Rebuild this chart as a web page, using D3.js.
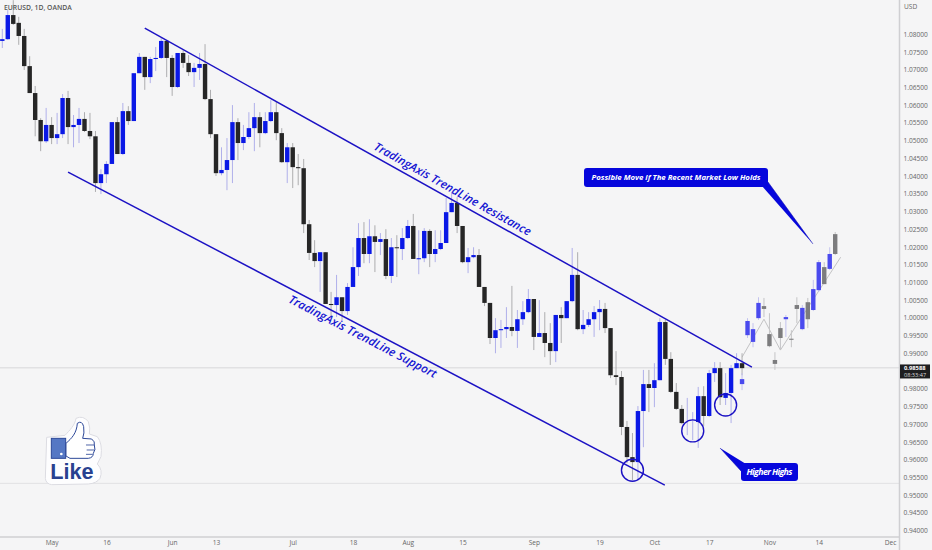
<!DOCTYPE html>
<html>
<head>
<meta charset="utf-8">
<script src="https://cdnjs.cloudflare.com/ajax/libs/d3/7.8.5/d3.min.js"></script>
<style>
  html, body { margin: 0; padding: 0; background: #f5f5f6; }
  svg { display: block; }
  text { font-family: "Open Sans", "DejaVu Sans", sans-serif; }
</style>
</head>
<body>
<div id="chart"></div>
<script>
const opens = [1.0781,1.0786,1.0854,1.0832,1.0795,1.0710,1.0634,1.0558,1.0498,1.0544,
  1.0507,1.0518,1.0620,1.0538,1.0544,1.0561,1.0527,1.0512,1.0380,1.0405,
  1.0434,1.0552,1.0462,1.0583,1.0555,1.0690,1.0736,1.0679,1.0730,1.0733,
  1.0781,1.0733,1.0651,1.0747,1.0719,1.0693,1.0705,1.0716,1.0617,1.0518,
  1.0408,1.0417,1.0445,1.0552,1.0493,1.0510,1.0535,1.0566,1.0521,1.0555,
  1.0580,1.0521,1.0439,1.0481,1.0425,1.0422,1.0264,1.0183,1.0160,1.0185,
  1.0039,1.0036,1.0058,1.0019,1.0087,1.0143,1.0225,1.0180,1.0230,1.0214,
  1.0222,1.0118,1.0199,1.0194,1.0225,1.0259,1.0166,1.0168,1.0245,1.0180,
  1.0194,1.0211,1.0298,1.0324,1.0259,1.0157,1.0171,1.0177,1.0087,1.0042,
  0.9943,0.9965,0.9968,0.9974,0.9963,0.9996,1.0016,1.0053,0.9946,0.9957,
  0.9929,0.9906,1.0008,0.9999,1.0047,1.0121,0.9968,0.9980,0.9996,1.0016,
  1.0025,0.9971,0.9838,0.9833,0.9692,0.9607,0.9593,0.9737,0.9813,0.9802,
  0.9824,0.9988,0.9884,0.9791,0.9743,0.9720,0.9700,0.9706,0.9779,0.9723,
  0.9844,0.9858,0.9774,0.9788,0.9858,0.9872];
const highs = [1.0815,1.0868,1.0896,1.0849,1.0815,1.0738,1.0654,1.0563,1.0592,1.0566,
  1.0578,1.0631,1.0640,1.0572,1.0592,1.0580,1.0578,1.0527,1.0419,1.0442,
  1.0552,1.0566,1.0606,1.0597,1.0690,1.0747,1.0736,1.0736,1.0764,1.0789,
  1.0784,1.0741,1.0747,1.0755,1.0741,1.0719,1.0747,1.0772,1.0643,1.0518,
  1.0481,1.0507,1.0600,1.0563,1.0544,1.0580,1.0606,1.0580,1.0580,1.0614,
  1.0609,1.0535,1.0493,1.0493,1.0462,1.0448,1.0276,1.0219,1.0185,1.0185,
  1.0073,1.0121,1.0058,1.0098,1.0199,1.0267,1.0270,1.0278,1.0261,1.0239,
  1.0250,1.0225,1.0233,1.0253,1.0276,1.0293,1.0247,1.0253,1.0250,1.0247,
  1.0247,1.0338,1.0355,1.0340,1.0259,1.0197,1.0199,1.0194,1.0087,1.0042,
  0.9999,0.9994,1.0030,1.0090,1.0022,1.0047,1.0081,1.0053,1.0050,1.0016,
  0.9985,1.0008,1.0030,1.0047,1.0197,1.0185,1.0022,1.0016,1.0033,1.0050,
  1.0042,0.9971,0.9906,0.9850,0.9709,0.9675,0.9751,0.9853,0.9853,0.9872,
  0.9999,0.9994,0.9903,0.9816,0.9754,0.9774,0.9734,0.9805,0.9807,0.9853,
  0.9875,0.9875,0.9844,0.9867,0.9900,0.9900];
const lows = [1.0761,1.0784,1.0826,1.0770,1.0699,1.0634,1.0512,1.0470,1.0493,1.0490,
  1.0490,1.0507,1.0490,1.0481,1.0493,1.0524,1.0504,1.0355,1.0349,1.0380,
  1.0434,1.0462,1.0459,1.0544,1.0555,1.0690,1.0643,1.0662,1.0696,1.0730,
  1.0679,1.0626,1.0648,1.0705,1.0682,1.0651,1.0671,1.0614,1.0507,1.0400,
  1.0402,1.0360,1.0380,1.0445,1.0473,1.0504,1.0470,1.0481,1.0518,1.0552,
  1.0501,1.0437,1.0380,1.0366,1.0374,1.0239,1.0163,1.0143,1.0073,1.0039,
  1.0002,1.0002,0.9994,1.0008,1.0087,1.0118,1.0154,1.0154,1.0129,1.0177,
  1.0109,1.0098,1.0115,1.0163,1.0222,1.0166,1.0123,1.0157,1.0143,1.0157,
  1.0191,1.0211,1.0298,1.0239,1.0154,1.0126,1.0168,1.0087,1.0033,0.9926,
  0.9900,0.9915,0.9943,0.9948,0.9915,0.9980,1.0013,0.9909,0.9946,0.9889,
  0.9867,0.9875,0.9929,0.9999,1.0044,0.9965,0.9954,0.9974,0.9946,0.9965,
  0.9957,0.9830,0.9810,0.9669,0.9590,0.9542,0.9542,0.9635,0.9734,0.9748,
  0.9824,0.9867,0.9788,0.9740,0.9700,0.9669,0.9655,0.9633,0.9695,0.9720,
  0.9819,0.9754,0.9754,0.9703,0.9858,0.9838];
const closes = [1.0786,1.0854,1.0829,1.0795,1.0710,1.0634,1.0558,1.0498,1.0544,1.0507,
  1.0518,1.0620,1.0538,1.0544,1.0561,1.0527,1.0512,1.0380,1.0405,1.0434,
  1.0552,1.0462,1.0583,1.0555,1.0690,1.0736,1.0679,1.0730,1.0733,1.0781,
  1.0733,1.0651,1.0747,1.0719,1.0693,1.0705,1.0716,1.0617,1.0518,1.0408,
  1.0417,1.0445,1.0552,1.0493,1.0510,1.0535,1.0566,1.0521,1.0555,1.0580,
  1.0521,1.0439,1.0481,1.0425,1.0422,1.0264,1.0183,1.0160,1.0185,1.0039,
  1.0036,1.0058,1.0019,1.0087,1.0143,1.0225,1.0180,1.0230,1.0214,1.0222,
  1.0118,1.0199,1.0197,1.0225,1.0259,1.0166,1.0168,1.0245,1.0180,1.0194,
  1.0211,1.0298,1.0324,1.0259,1.0157,1.0171,1.0177,1.0087,1.0042,0.9943,
  0.9965,0.9968,0.9974,0.9963,0.9996,1.0016,1.0053,0.9946,0.9957,0.9929,
  0.9906,1.0008,0.9999,1.0047,1.0121,0.9968,0.9980,0.9996,1.0016,1.0025,
  0.9971,0.9838,0.9833,0.9692,0.9607,0.9593,0.9737,0.9813,0.9802,0.9824,
  0.9988,0.9884,0.9791,0.9743,0.9703,0.9720,0.9700,0.9779,0.9723,0.9844,
  0.9858,0.9776,0.9788,0.9858,0.9872,0.9858];

// projected candles, first one sits on the last real bar
const projStart = 135;
const projOpens = [0.9813,0.9951,0.9932,0.9999,1.0033,0.9954,0.9881,0.9971,0.9996,0.9941,1.0036,0.9968,1.0044,1.0022,1.0078,1.0143,1.0138,1.0236];
const projHighs = [0.9844,0.9999,0.9985,1.0058,1.0056,1.0013,0.9903,0.9988,1.0008,0.9965,1.0058,1.0036,1.0056,1.0107,1.0163,1.0157,1.0199,1.0242];
const projLows = [0.9796,0.9943,0.9917,0.9994,1.0002,0.9917,0.9853,0.9909,0.9946,0.9917,0.9985,0.9965,0.9971,1.0019,1.0073,1.0095,1.0135,1.0177];
const projCloses = [0.9827,0.9991,0.9968,1.0042,1.0025,0.9920,0.9870,0.9943,1.0002,0.9938,1.0025,1.0028,0.9996,1.0081,1.0157,1.0095,1.0180,1.0180];

// thin zigzag under the projected candles
const zigBars = [135, 139, 142, 153];
const zigPrices = [0.9889, 0.9996, 0.9909, 1.0171];

// drawn lines, circled lows, horizontal levels
const resistanceBars = [26, 136.8];
const resistancePrices = [1.0817, 0.9861];
const supportBars = [12, 120.9];
const supportPrices = [1.0411, 0.9528];
const circleBars = [115, 126, 132];
const circlePrices = [0.9570, 0.9681, 0.9754];
const lastPrice = 0.98588;
const lowLevel = 0.9533;

// 0.98500 is hidden behind the last price tag
const priceTicks = d3.range(0, 29).map(i => 0.94 + i * 0.005).filter(p => Math.abs(p - 0.985) > 0.001);
const timeTickBars = [9, 19, 31, 39, 53, 64, 74, 84, 97, 109, 119, 129, 140, 149, 162];
const timeTickLabels = ["May", "16", "Jun", "13", "Jul", "18", "Aug", "15", "Sep", "19", "Oct", "17", "Nov", "14", "Dec"];

const width = 932, height = 550;
const axisX = 899.5, axisY = 537;
const blue = "#0a18e6", black = "#262626", lineBlue = "#1c12c4", boxBlue = "#0606dc";

const x = d3.scaleLinear().domain([0, 162]).range([2.3, 890]);
const y = d3.scaleLinear().domain([0.94, 1.08]).range([530.5, 34.2]);

const svg = d3.select("#chart").append("svg")
  .attr("width", width)
  .attr("height", height);

svg.append("rect").attr("width", width).attr("height", height).attr("fill", "#f5f5f6");

// levels behind the candles
[[lastPrice, "#cfcfd2"], [lowLevel, "#dcdcde"]].forEach(([p, c]) => {
  svg.append("line")
    .attr("x1", 0).attr("x2", axisX)
    .attr("y1", y(p)).attr("y2", y(p))
    .attr("stroke", c).attr("stroke-width", 0.8);
});

const real = opens.map((o, i) => ({ i, o, h: highs[i], l: lows[i], c: closes[i] }));
const proj = projOpens.map((o, i) => ({ i: projStart + i, o, h: projHighs[i], l: projLows[i], c: projCloses[i] }));

function drawCandles(rows, up, down, upWick, downWick) {
  const g = svg.append("g");
  g.selectAll("line").data(rows).enter().append("line")
    .attr("x1", d => x(d.i)).attr("x2", d => x(d.i))
    .attr("y1", d => y(d.h)).attr("y2", d => y(d.l))
    .attr("stroke", d => d.c >= d.o ? upWick : downWick)
    .attr("stroke-width", 1);
  g.selectAll("rect").data(rows.filter(d => d.o !== d.c)).enter().append("rect")
    .attr("x", d => x(d.i) - 2.2)
    .attr("width", 4.4)
    .attr("y", d => y(Math.max(d.o, d.c)))
    .attr("height", d => Math.max(1, Math.abs(y(d.o) - y(d.c))))
    .attr("fill", d => d.c >= d.o ? up : down);
}

const zigLine = d3.line().x(d => x(d[0])).y(d => y(d[1]));
svg.append("path")
  .attr("d", zigLine(zigBars.map((b, i) => [b, zigPrices[i]])))
  .attr("fill", "none").attr("stroke", "#bcbcbe").attr("stroke-width", 0.9);

drawCandles(real, blue, black, "#b0b0ea", "#adadaf");
drawCandles(proj, "#4a4aee", "#7c7c7e", "#c2c2ee", "#c4c4c6");

// trend lines
[[resistanceBars, resistancePrices], [supportBars, supportPrices]].forEach(([b, p]) => {
  svg.append("path")
    .attr("d", zigLine(b.map((v, i) => [v, p[i]])))
    .attr("fill", "none").attr("stroke", lineBlue).attr("stroke-width", 1.5);
});

svg.selectAll(".low").data(circleBars).enter().append("circle")
  .attr("class", "low")
  .attr("cx", d => x(d))
  .attr("cy", (d, i) => y(circlePrices[i]))
  .attr("r", 11)
  .attr("fill", "none").attr("stroke", lineBlue).attr("stroke-width", 1.4);

// along-the-line labels
function slanted(txt, px, py, angle, len) {
  svg.append("text")
    .attr("transform", "translate(" + px + "," + py + ") rotate(" + angle + ")")
    .attr("fill", "#1616d2")
    .attr("textLength", len)
    .attr("lengthAdjust", "spacing")
    .style("font-size", "11.6px")
    .style("font-style", "italic")
    .style("font-weight", "600")
    .text(txt);
}
slanted("TradingAxis TrendLine Resistance", 373, 149, 29.3, 178);
slanted("TradingAxis TrendLine Support", 287.7, 302, 27.5, 165);

// callouts
function callout(txt, bx, by, bw, bh, tail, size, len) {
  svg.append("path").attr("d", d3.line()(tail)).attr("fill", boxBlue).attr("stroke", "#0404a8").attr("stroke-width", 0.5);
  svg.append("rect")
    .attr("x", bx).attr("y", by).attr("width", bw).attr("height", bh)
    .attr("rx", 3).attr("fill", boxBlue);
  svg.append("text")
    .attr("x", bx + bw / 2).attr("y", by + bh / 2 + size * 0.35)
    .attr("text-anchor", "middle")
    .attr("fill", "#fff")
    .attr("textLength", len)
    .style("font-size", size + "px")
    .style("font-style", "italic")
    .style("font-weight", "700")
    .text(txt);
}
callout("Possible Move if The Recent Market Low Holds", 584, 168, 184, 19, [[762, 186], [768, 182], [813, 244]], 7.8, 169);
callout("Higher Highs", 741, 463, 57, 18, [[746, 464], [741, 471], [720, 448]], 8.8, 46);

// like sticker
const like = svg.append("g").attr("transform", "translate(20,410) scale(0.3333)");
like.append("path")
  .attr("d", "M80,82 L135,76 C150,60 165,45 168,25 Q190,15 205,35 Q212,55 208,72 L232,80 Q248,100 243,140 L232,162 Q250,180 240,205 Q230,220 205,222 L95,224 Q78,222 76,205 Z")
  .attr("fill", "#fdfdfe").attr("stroke", "#dcdce2").attr("stroke-width", 3);
like.append("rect").attr("x", 94).attr("y", 85).attr("width", 43).attr("height", 60)
  .attr("fill", "#5577c4").attr("stroke", "#2c4798").attr("stroke-width", 3);
like.append("circle").attr("cx", 124).attr("cy", 132).attr("r", 4).attr("fill", "#fff");
like.append("path")
  .attr("d", "M138,100 C155,85 170,70 172,40 Q186,30 191,50 Q194,70 188,85 L215,87 Q226,95 223,105 Q228,120 220,130 Q220,143 205,145 L150,145 L138,138 Z")
  .attr("fill", "#fff").attr("stroke", "#2c4798").attr("stroke-width", 3);
// finger creases
like.append("path")
  .attr("d", "M198,105 L222,105 M200,120 L224,120 M198,133 L218,133")
  .attr("fill", "none").attr("stroke", "#2c4798").attr("stroke-width", 2.5);
like.append("text")
  .attr("x", 91).attr("y", 206)
  .attr("fill", "#28418f")
  .style("font-family", "'Liberation Sans', sans-serif")
  .style("font-weight", "700")
  .style("font-size", "65px")
  .text("Like");

// axes
const yAxis = d3.axisRight(y).tickValues(priceTicks).tickFormat(d3.format(".5f")).tickSize(0).tickPadding(4);
const yG = svg.append("g").attr("transform", "translate(" + axisX + ",0)").call(yAxis);
yG.select(".domain").remove();
yG.selectAll("text").attr("fill", "#666").style("font-size", "6.6px");

const xAxis = d3.axisBottom(x).tickValues(timeTickBars)
  .tickFormat((d, i) => timeTickLabels[i]).tickSize(0).tickPadding(3.5);
const xG = svg.append("g").attr("transform", "translate(0," + axisY + ")").call(xAxis);
xG.select(".domain").remove();
xG.selectAll("text").attr("fill", "#666").style("font-size", "6.6px");

svg.append("line").attr("x1", 0).attr("x2", axisX).attr("y1", axisY).attr("y2", axisY)
  .attr("stroke", "#cfcfd2").attr("stroke-width", 1.5);
svg.append("line").attr("x1", axisX).attr("x2", axisX).attr("y1", 0).attr("y2", height)
  .attr("stroke", "#cfcfd2").attr("stroke-width", 1.5);

// headers
svg.append("text").attr("x", 4).attr("y", 10).attr("fill", "#555")
  .style("font-size", "6.8px").style("font-weight", "600").text("EURUSD, 1D, OANDA");
svg.append("text").attr("x", 904).attr("y", 8.5).attr("fill", "#666")
  .style("font-size", "6.6px").text("USD");

// last price tag
svg.append("rect").attr("x", axisX + 0.5).attr("y", y(lastPrice) - 3.4).attr("width", 30).attr("height", 14).attr("fill", "#1e1e20");
svg.append("text").attr("x", 904).attr("y", y(lastPrice) + 2.4).attr("fill", "#fff")
  .style("font-size", "5.8px").style("font-weight", "700").text(d3.format(".5f")(lastPrice));
svg.append("text").attr("x", 904).attr("y", y(lastPrice) + 9.6).attr("fill", "#ddd")
  .style("font-size", "5.6px").text("08:33:47");
</script>
</body>
</html>
